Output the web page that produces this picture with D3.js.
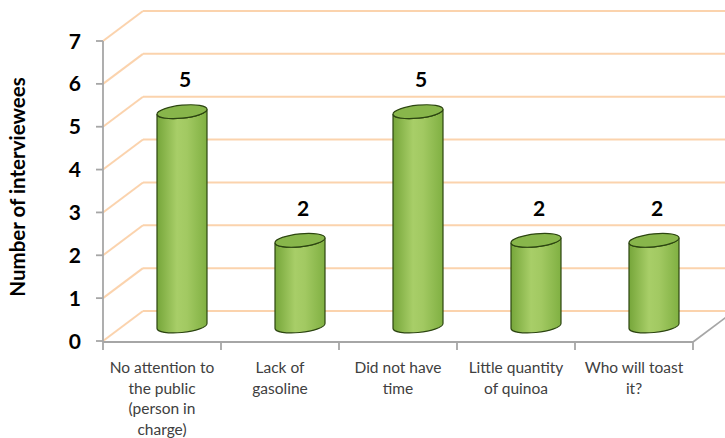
<!DOCTYPE html>
<html>
<head>
<meta charset="utf-8">
<script src="https://cdn.jsdelivr.net/npm/d3@7"></script>
<style>
  html, body { margin: 0; padding: 0; background: #ffffff; }
  svg { display: block; }
</style>
</head>
<body>
<svg id="chart" width="725" height="438"></svg>
<script>
// Reasons given by interviewees
const categories = [
  ["No attention to", "the public", "(person in", "charge)"],
  ["Lack of", "gasoline"],
  ["Did not have", "time"],
  ["Little quantity", "of quinoa"],
  ["Who will toast", "it?"]
];
const values = [5, 2, 5, 2, 2];
const yTicks = [0, 1, 2, 3, 4, 5, 6, 7];
const yTitle = "Number of interviewees";

(function draw() {
  const svg = d3.select("#chart");
  const W = 725;
  const FONT = "Lato, 'Open Sans', sans-serif";

  // plot frame: front plane plus a depth offset toward the back wall
  const plotLeft = 103, plotRight = 693, plotTop = 41, plotBottom = 341;
  const depthX = 40, depthY = -30;

  const y = d3.scaleLinear().domain([0, 7]).range([plotBottom, plotTop]);
  const x = d3.scaleBand().domain(d3.range(categories.length)).range([plotLeft, plotRight]).paddingInner(0).paddingOuter(0);

  const gridColor = "#fbd3ad";
  const axisColor = "#a6a6a6";

  // back wall gridlines
  svg.append("g").selectAll("line").data(yTicks).join("line")
    .attr("x1", plotLeft + depthX).attr("x2", W + 20)
    .attr("y1", d => y(d) + depthY).attr("y2", d => y(d) + depthY)
    .attr("stroke", gridColor).attr("stroke-width", 2);

  // side wall gridlines (diagonals)
  svg.append("g").selectAll("line").data(yTicks).join("line")
    .attr("x1", plotLeft).attr("y1", d => y(d))
    .attr("x2", plotLeft + depthX).attr("y2", d => y(d) + depthY)
    .attr("stroke", gridColor).attr("stroke-width", 2);

  // floor right edge
  svg.append("line")
    .attr("x1", plotRight).attr("y1", plotBottom + 1)
    .attr("x2", plotRight + depthX).attr("y2", plotBottom + 1 + depthY)
    .attr("stroke", axisColor).attr("stroke-width", 1.8);

  // value axis
  svg.append("line").attr("x1", plotLeft).attr("x2", plotLeft).attr("y1", plotTop).attr("y2", plotBottom + 1)
    .attr("stroke", axisColor).attr("stroke-width", 1.8);
  svg.append("g").selectAll("line").data(yTicks).join("line")
    .attr("x1", plotLeft - 7).attr("x2", plotLeft).attr("y1", d => y(d)).attr("y2", d => y(d))
    .attr("stroke", axisColor).attr("stroke-width", 1.8);
  svg.append("g").selectAll("text").data(yTicks).join("text")
    .attr("x", plotLeft - 22).attr("y", d => y(d))
    .attr("dy", "0.36em").attr("text-anchor", "end")
    .attr("font-family", FONT).attr("font-weight", "bold").attr("font-size", 21)
    .attr("fill", "#000").text(d => d);

  // category axis
  svg.append("line").attr("x1", plotLeft).attr("x2", plotRight).attr("y1", plotBottom + 1).attr("y2", plotBottom + 1)
    .attr("stroke", axisColor).attr("stroke-width", 1.8);
  const boundaries = d3.range(categories.length + 1).map(i => i < categories.length ? x(i) : x(i - 1) + x.bandwidth());
  svg.append("g").selectAll("line").data(boundaries).join("line")
    .attr("x1", d => d).attr("x2", d => d).attr("y1", plotBottom + 1).attr("y2", plotBottom + 9)
    .attr("stroke", axisColor).attr("stroke-width", 1.8);

  const catText = svg.append("g").selectAll("text").data(categories).join("text")
    .attr("x", (d, i) => x(i) + x.bandwidth() / 2)
    .attr("y", 373)
    .attr("text-anchor", "middle")
    .attr("font-family", FONT).attr("font-size", 15.5).attr("fill", "#404040");
  catText.selectAll("tspan").data(d => d).join("tspan")
    .attr("x", function () { return d3.select(this.parentNode).attr("x"); })
    .attr("dy", (d, j) => j === 0 ? 0 : 20.5)
    .text(d => d);

  // axis title
  svg.append("text")
    .attr("transform", "translate(25, 187) rotate(-90)")
    .attr("text-anchor", "middle")
    .attr("font-family", FONT).attr("font-weight", "bold").attr("font-size", 20.5)
    .attr("fill", "#000").text(yTitle);

  // cylinders
  const defs = svg.append("defs");
  const grad = defs.append("linearGradient").attr("id", "cylBody")
    .attr("x1", "0%").attr("x2", "100%").attr("y1", "0%").attr("y2", "0%");
  [["0%", "#76a63a"], ["40%", "#a8ce68"], ["60%", "#a2c962"], ["100%", "#80b042"]]
    .forEach(([o, c]) => grad.append("stop").attr("offset", o).attr("stop-color", c));

  const r = 25, ry = 6.5, skew = -5.5;
  const cyl = svg.append("g").selectAll("g").data(values).join("g")
    .attr("transform", (v, i) => {
      const cx = x(i) + x.bandwidth() / 2 + depthX / 2;
      const cy = y(0) + depthY / 2;
      return `translate(${cx},${cy}) skewY(${skew})`;
    });

  cyl.append("path")
    .attr("d", v => {
      const h = y(0) - y(v);
      return `M${-r},${-h} L${-r},0 A${r},${ry} 0 0 0 ${r},0 L${r},${-h} A${r},${ry} 0 0 1 ${-r},${-h} Z`;
    })
    .attr("fill", "url(#cylBody)")
    .attr("stroke", "#2c4510").attr("stroke-width", 1.2);

  cyl.append("ellipse")
    .attr("cx", 0).attr("cy", v => -(y(0) - y(v)))
    .attr("rx", r).attr("ry", ry)
    .attr("fill", "#88b64b")
    .attr("stroke", "#2c4510").attr("stroke-width", 1.2);

  // value labels
  svg.append("g").selectAll("text").data(values).join("text")
    .attr("x", (v, i) => x(i) + x.bandwidth() / 2 + depthX / 2 + 3)
    .attr("y", v => y(v) + depthY / 2 - 32)
    .attr("dy", "0.36em").attr("text-anchor", "middle")
    .attr("font-family", FONT).attr("font-weight", "bold").attr("font-size", 21)
    .attr("fill", "#000").text(v => v);
})();
</script>
</body>
</html>
